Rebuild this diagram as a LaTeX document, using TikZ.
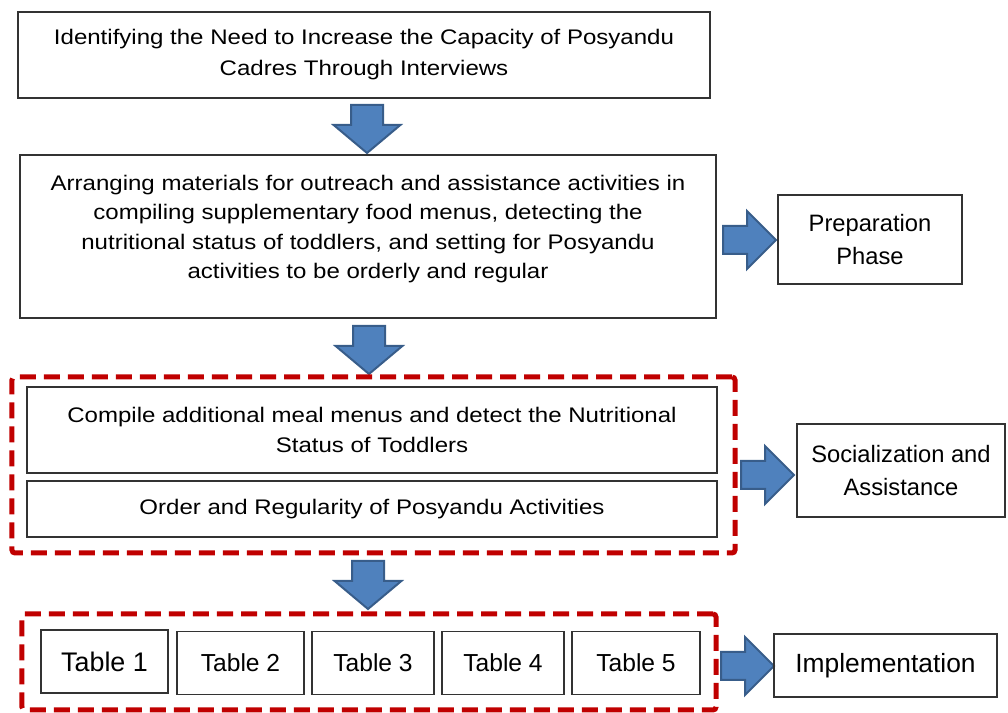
\documentclass[tikz,border=0pt]{standalone}
\usepackage{fontspec}
\setmainfont{Liberation Sans}
\newfontfamily\widefont{Liberation Sans}[FakeStretch=1.14]
\usetikzlibrary{shapes.arrows}
\definecolor{arrowblue}{HTML}{4F81BD}
\definecolor{arrowedge}{HTML}{385D8A}
\definecolor{dashred}{HTML}{C00000}
\tikzset{
  box/.style={draw=black!80,line width=0.3mm,align=center,inner sep=0pt,
    font=\widefont\fontsize{12pt}{17.6pt}\selectfont},
  group/.style={draw=dashred,line width=1mm,dash pattern=on 3.2mm off 1.6mm,
    rounded corners=0.6mm,inner sep=0pt},
  blockarrow/.style={single arrow,draw=arrowedge,fill=arrowblue,line width=0.4mm,
    inner xsep=0pt,anchor=tail},
  downarrow/.style={blockarrow,rotate=-90,minimum height=9.6mm,inner ysep=3mm,
    single arrow head extend=3.5mm,single arrow tip angle=100},
  rightarrow/.style={blockarrow,minimum height=10.6mm,inner ysep=2.6mm,
    single arrow head extend=3mm},
  sidebox/.style={box,font=\fontsize{13.5pt}{18.5pt}\selectfont},
  tablebox/.style={box,minimum height=12.6mm,font=\fontsize{14pt}{16pt}\selectfont},
}
\begin{document}
\begin{tikzpicture}[x=0.2mm,y=-0.2mm]
\useasboundingbox (0,0) rectangle (1008,713);
\node[box,minimum width=138.4mm,minimum height=17.2mm](need)at(364,55)
  {Identifying the Need to Increase the Capacity of Posyandu\\Cadres Through Interviews};
\node[downarrow](a1)at(367,104){};
\node[box,minimum width=139.2mm,minimum height=32.6mm](materials)at(368,236.5){};
\node[box,draw=none,font=\widefont\fontsize{12pt}{16.7pt}\selectfont](materialstext)at(368,229)
  {Arranging materials for outreach and assistance activities in\\
   compiling supplementary food menus, detecting the\\
   nutritional status of toddlers, and setting for Posyandu\\
   activities to be orderly and regular};
\node[rightarrow](a2)at(722,240){};
\node[sidebox,minimum width=36.8mm,minimum height=17.8mm](prep)at(870,239.5){Preparation\\Phase};
\node[downarrow](a3)at(369,325){};
\node[group,minimum width=144.6mm,minimum height=35.2mm](groupa)at(373.5,465){};
\node[box,minimum width=138mm,minimum height=17.2mm](menu)at(372,430)
  {Compile additional meal menus and detect the Nutritional\\Status of Toddlers};
\node[box,minimum width=138mm,minimum height=11.2mm](order)at(372,509)
  {Order and Regularity of Posyandu Activities};
\node[rightarrow](a4)at(740,475){};
\node[sidebox,minimum width=41.6mm,minimum height=18.6mm](social)at(901,470.5){Socialization and\\Assistance};
\node[downarrow](a5)at(368,560){};
\node[group,minimum width=138.8mm,minimum height=19.2mm](groupb)at(369,662){};
\node[tablebox,minimum width=25.4mm,font=\fontsize{15.3pt}{18pt}\selectfont](t1)at(104.5,661.5){Table 1};
\node[tablebox,minimum width=25.4mm](t2)at(240.5,663){Table 2};
\node[tablebox,minimum width=24.4mm](t3)at(373,663){Table 3};
\node[tablebox,minimum width=24.4mm](t4)at(503,663){Table 4};
\node[tablebox,minimum width=25.6mm](t5)at(636,663){Table 5};
\node[rightarrow](a6)at(720,666){};
\node[box,minimum width=44.6mm,minimum height=12.6mm,font=\fontsize{15pt}{18pt}\selectfont]
  (impl)at(885.5,665.5){Implementation};
\end{tikzpicture}
\end{document}
